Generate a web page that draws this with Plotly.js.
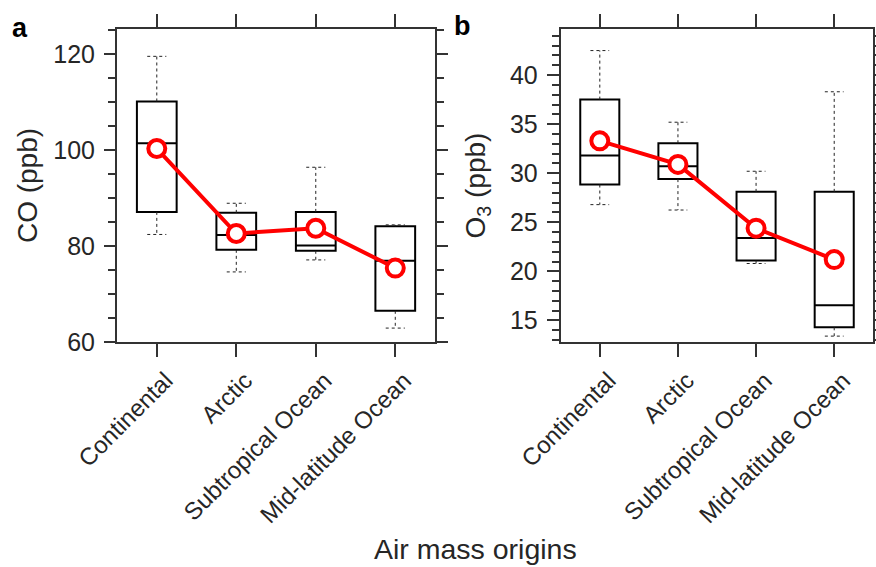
<!DOCTYPE html>
<html>
<head>
<meta charset="utf-8">
<script src="https://cdn.plot.ly/plotly-3.0.1.min.js"></script>
<style>
html,body{margin:0;padding:0;background:#fff;}
#chart{width:876px;height:567px;}
</style>
</head>
<body>
<div id="chart"></div>
<script>
// ---- data ----
var categories = ['Continental', 'Arctic', 'Subtropical Ocean', 'Mid-latitude Ocean'];
var catPos = [0, 1, 2, 3];

var coLower  = [82.4, 74.6, 77.1, 62.9];
var coQ1     = [87.1, 79.2, 79.0, 66.5];
var coMedian = [101.4, 82.3, 80.1, 76.9];
var coQ3     = [110.1, 86.9, 87.1, 84.1];
var coUpper  = [119.5, 88.9, 96.4, 84.4];
var coMean   = [100.3, 82.6, 83.7, 75.4];

var o3Lower  = [26.8, 26.25, 20.8, 13.4];
var o3Q1     = [28.85, 29.4, 21.1, 14.3];
var o3Median = [31.8, 30.7, 23.4, 16.55];
var o3Q3     = [37.5, 33.05, 28.1, 28.1];
var o3Upper  = [42.5, 35.2, 30.2, 38.3];
var o3Mean   = [33.3, 30.9, 24.4, 21.2];

var coTicks = [60, 80, 100, 120];
var o3Ticks = [15, 20, 25, 30, 35, 40];

// ---- styles ----
var FONT = 'Liberation Sans, Arial, Helvetica, sans-serif';
var TXT = '#262626';
var FRAME = '#333333';
var RED = '#ff0000';
var CAP_HALF = 0.12;

function boxTrace(q1, med, q3, xa, ya) {
  return {
    type: 'box', x: catPos, q1: q1, median: med, q3: q3,
    lowerfence: q1, upperfence: q3, width: 0.5, whiskerwidth: 0,
    line: {color: '#000', width: 2}, fillcolor: '#fff',
    xaxis: xa, yaxis: ya, hoverinfo: 'skip', showlegend: false, boxpoints: false
  };
}
function whiskerTrace(lower, q1, q3, upper, xa, ya) {
  var xs = [], ys = [];
  for (var i = 0; i < catPos.length; i++) {
    var c = catPos[i];
    xs.push(c, c, null, c, c, null, c - CAP_HALF, c + CAP_HALF, null, c - CAP_HALF, c + CAP_HALF, null);
    ys.push(q3[i], upper[i], null, q1[i], lower[i], null, upper[i], upper[i], null, lower[i], lower[i], null);
  }
  return {
    type: 'scatter', mode: 'lines', x: xs, y: ys,
    line: {color: '#222', width: 1, dash: 'dot'},
    xaxis: xa, yaxis: ya, hoverinfo: 'skip', showlegend: false
  };
}
function meanTrace(mean, xa, ya) {
  return {
    type: 'scatter', mode: 'lines+markers', x: catPos, y: mean,
    line: {color: RED, width: 4},
    marker: {symbol: 'circle', size: 17, color: '#fff', line: {color: RED, width: 4}},
    xaxis: xa, yaxis: ya, hoverinfo: 'skip', showlegend: false, cliponaxis: false
  };
}

var data = [
  boxTrace(coQ1, coMedian, coQ3, 'x', 'y'),
  whiskerTrace(coLower, coQ1, coQ3, coUpper, 'x', 'y'),
  meanTrace(coMean, 'x', 'y'),
  boxTrace(o3Q1, o3Median, o3Q3, 'x2', 'y2'),
  whiskerTrace(o3Lower, o3Q1, o3Q3, o3Upper, 'x2', 'y2'),
  meanTrace(o3Mean, 'x2', 'y2')
];

function xAxis(domain, anchor) {
  return {
    domain: domain, anchor: anchor, range: [-0.5, 3.5],
    tickmode: 'array', tickvals: catPos, ticktext: categories, tickangle: -45,
    ticks: 'outside', ticklen: 13, tickwidth: 2, tickcolor: FRAME,
    showline: true, linewidth: 2, linecolor: FRAME, mirror: 'allticks',
    showgrid: false, zeroline: false, ticklabelshift: 9, ticklabelstandoff: 0,
    tickfont: {family: FONT, size: 24, color: TXT}
  };
}

var layout = {
  width: 876, height: 567,
  margin: {l: 0, r: 0, t: 0, b: 0},
  paper_bgcolor: '#fff', plot_bgcolor: '#fff',
  showlegend: false,
  font: {family: FONT, color: TXT},
  xaxis: xAxis([0.1336, 0.4966], 'y'),
  xaxis2: xAxis([0.6401, 0.9969], 'y2'),
  yaxis: {
    domain: [0.3968, 0.9489], anchor: 'x', range: [60, 125.2],
    tickmode: 'array', tickvals: coTicks,
    ticks: 'outside', ticklen: 11, tickwidth: 2, tickcolor: FRAME,
    minor: {dtick: 5, tick0: 0, ticks: 'outside', ticklen: 7, tickwidth: 2, tickcolor: FRAME, showgrid: false},
    showline: true, linewidth: 2, linecolor: FRAME, mirror: 'allticks',
    showgrid: false, zeroline: false, ticklabelstandoff: 4,
    tickfont: {family: FONT, size: 25, color: TXT},
    title: {text: 'CO (ppb)', font: {family: FONT, size: 28, color: TXT}, standoff: 8}
  },
  yaxis2: {
    domain: [0.3968, 0.9489], anchor: 'x2', range: [12.8, 44.7],
    tickmode: 'array', tickvals: o3Ticks,
    ticks: 'outside', ticklen: 12, tickwidth: 2, tickcolor: FRAME,
    minor: {dtick: 1, tick0: 0, ticks: 'outside', ticklen: 7, tickwidth: 2, tickcolor: FRAME, showgrid: false},
    showline: true, linewidth: 2, linecolor: FRAME, mirror: 'allticks',
    showgrid: false, zeroline: false, ticklabelstandoff: 4,
    tickfont: {family: FONT, size: 25, color: TXT},
    title: {text: 'O<sub>3</sub> (ppb)', font: {family: FONT, size: 28, color: TXT}, standoff: 16}
  },
  annotations: [
    {text: '<b>a</b>', xref: 'paper', yref: 'paper', x: 10/876, y: 1 - 45/567,
     xanchor: 'left', yanchor: 'bottom', showarrow: false, font: {family: FONT, size: 27, color: '#000'}},
    {text: '<b>b</b>', xref: 'paper', yref: 'paper', x: 452/876, y: 1 - 43/567,
     xanchor: 'left', yanchor: 'bottom', showarrow: false, font: {family: FONT, size: 27, color: '#000'}},
    {text: 'Air mass origins', xref: 'paper', yref: 'paper', x: 475/876, y: 1 - 549/567,
     xanchor: 'center', yanchor: 'middle', showarrow: false, font: {family: FONT, size: 28.5, color: TXT}}
  ]
};

Plotly.newPlot('chart', data, layout, {staticPlot: true, displayModeBar: false});
</script>
</body>
</html>
